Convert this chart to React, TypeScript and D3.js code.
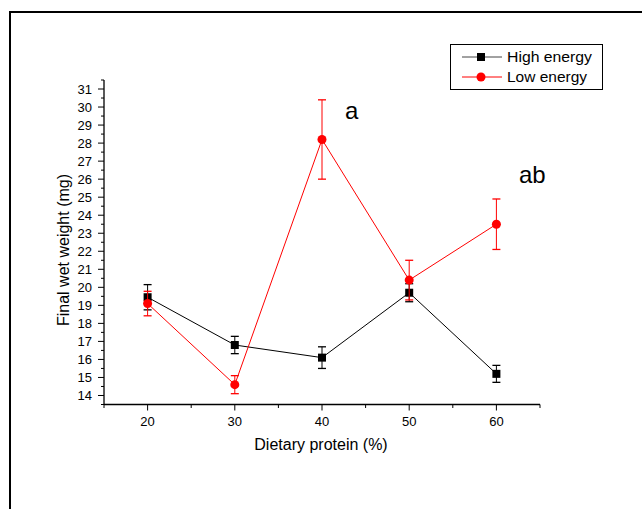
import React from "react";
import * as d3 from "d3";

const protein = [20, 30, 40, 50, 60];
const highEnergy = [19.45, 16.8, 16.1, 19.7, 15.2];
const highEnergyErr = [0.7, 0.48, 0.6, 0.5, 0.47];
const lowEnergy = [19.1, 14.6, 28.2, 20.4, 23.5];
const lowEnergyErr = [0.68, 0.5, 2.2, 1.1, 1.4];
const xTicks = [20, 30, 40, 50, 60];
const yTicks = [14, 15, 16, 17, 18, 19, 20, 21, 22, 23, 24, 25, 26, 27, 28, 29, 30, 31];

const W = 642;
const H = 509;
const FONT = "Liberation Sans, Arial, sans-serif";

export default function App() {
  const x = d3.scaleLinear().domain([15, 65]).range([104, 540]);
  const y = d3.scaleLinear().domain([13.5, 31.5]).range([404.5, 80]);
  const line = d3
    .line<[number, number]>()
    .x((d) => x(d[0]))
    .y((d) => y(d[1]));

  const xMinor = d3.range(15, 65.01, 5);
  const yMinor = d3.range(13.5, 31.51, 0.5);

  const series = [
    { name: "High energy", vals: highEnergy, errs: highEnergyErr, color: "#000000", legendColor: "#444444", shape: "square", tl: 85 },
    { name: "Low energy", vals: lowEnergy, errs: lowEnergyErr, color: "#ff0000", legendColor: "#ff0000", shape: "circle", tl: 80 },
  ];

  const marker = (shape: string, cx: number, cy: number, color: string, key?: string) =>
    shape === "square" ? (
      <rect key={key} x={cx - 4} y={cy - 4} width={8} height={8} fill={color} />
    ) : (
      <circle key={key} cx={cx} cy={cy} r={4.5} fill={color} />
    );

  return (
    <svg
      width={W}
      height={H}
      style={{ position: "absolute", left: 0, top: 0, background: "#fff" }}
      fontFamily={FONT}
    >
      <rect x={0} y={0} width={W} height={H} fill="#fff" />
      {/* outer frame */}
      <rect x={10} y={12} width={W + 20} height={H + 20} fill="none" stroke="#000" strokeWidth={2} />

      {/* y axis */}
      <line x1={x(15)} x2={x(15)} y1={y(13.5)} y2={y(31.5)} stroke="#000" strokeWidth={1.3} />
      {yMinor.map((v) => {
        const major = Math.abs(v - Math.round(v)) < 1e-6;
        return (
          <line
            key={"ym" + v}
            x1={x(15)}
            x2={x(15) - (major ? 6 : 3)}
            y1={y(v)}
            y2={y(v)}
            stroke="#000"
            strokeWidth={1}
          />
        );
      })}
      {yTicks.map((v) => (
        <text key={"yt" + v} x={92} y={y(v)} dy="0.35em" textAnchor="end" fontSize={13} fill="#000">
          {v}
        </text>
      ))}

      {/* x axis */}
      <line x1={x(15)} x2={x(65)} y1={y(13.5)} y2={y(13.5)} stroke="#000" strokeWidth={1.3} />
      {xMinor.map((v) => {
        const major = v % 10 === 0;
        return (
          <line
            key={"xm" + v}
            x1={x(v)}
            x2={x(v)}
            y1={y(13.5)}
            y2={y(13.5) + (major ? 6 : 3.5)}
            stroke="#000"
            strokeWidth={1}
          />
        );
      })}
      {xTicks.map((v) => (
        <text key={"xt" + v} x={x(v)} y={426} textAnchor="middle" fontSize={13} fill="#000">
          {v}
        </text>
      ))}

      {/* axis titles */}
      <text x={321} y={450} textAnchor="middle" fontSize={16} fill="#000">
        Dietary protein (%)
      </text>
      <text
        transform={`translate(69,250) rotate(-90)`}
        textAnchor="middle"
        fontSize={16}
        fill="#000"
      >
        Final wet weight (mg)
      </text>

      {/* series */}
      {series.map((s) => {
        const pts = protein.map((p, i) => [p, s.vals[i]] as [number, number]);
        return (
          <g key={s.name}>
            <path d={line(pts) || ""} fill="none" stroke={s.color} strokeWidth={1} />
            {pts.map((pt, i) => {
              const cx = x(pt[0]);
              const top = y(pt[1] + s.errs[i]);
              const bot = y(pt[1] - s.errs[i]);
              return (
                <g key={i}>
                  <line x1={cx} x2={cx} y1={top} y2={bot} stroke={s.color} strokeWidth={1} />
                  <line x1={cx - 4} x2={cx + 4} y1={top} y2={top} stroke={s.color} strokeWidth={1.3} />
                  <line x1={cx - 4} x2={cx + 4} y1={bot} y2={bot} stroke={s.color} strokeWidth={1.3} />
                </g>
              );
            })}
            {pts.map((pt, i) => marker(s.shape, x(pt[0]), y(pt[1]), s.color, "m" + i))}
          </g>
        );
      })}

      {/* annotations */}
      <text x={345} y={119} fontSize={24} fill="#000">
        a
      </text>
      <text x={519} y={183} fontSize={24} fill="#000">
        ab
      </text>

      {/* legend */}
      <rect x={450.5} y={44.5} width={152} height={45} fill="#fff" stroke="#000" strokeWidth={1} />
      {series.map((s, i) => {
        const ly = 57 + i * 20;
        return (
          <g key={"lg" + s.name}>
            <line x1={462} x2={502} y1={ly} y2={ly} stroke={s.legendColor} strokeWidth={1} />
            {marker(s.shape, 481, ly, s.color)}
            <text
              x={507}
              y={ly}
              dy="0.35em"
              fontSize={14}
              fill="#000"
              textLength={s.tl}
              lengthAdjust="spacingAndGlyphs"
            >
              {s.name}
            </text>
          </g>
        );
      })}
    </svg>
  );
}
